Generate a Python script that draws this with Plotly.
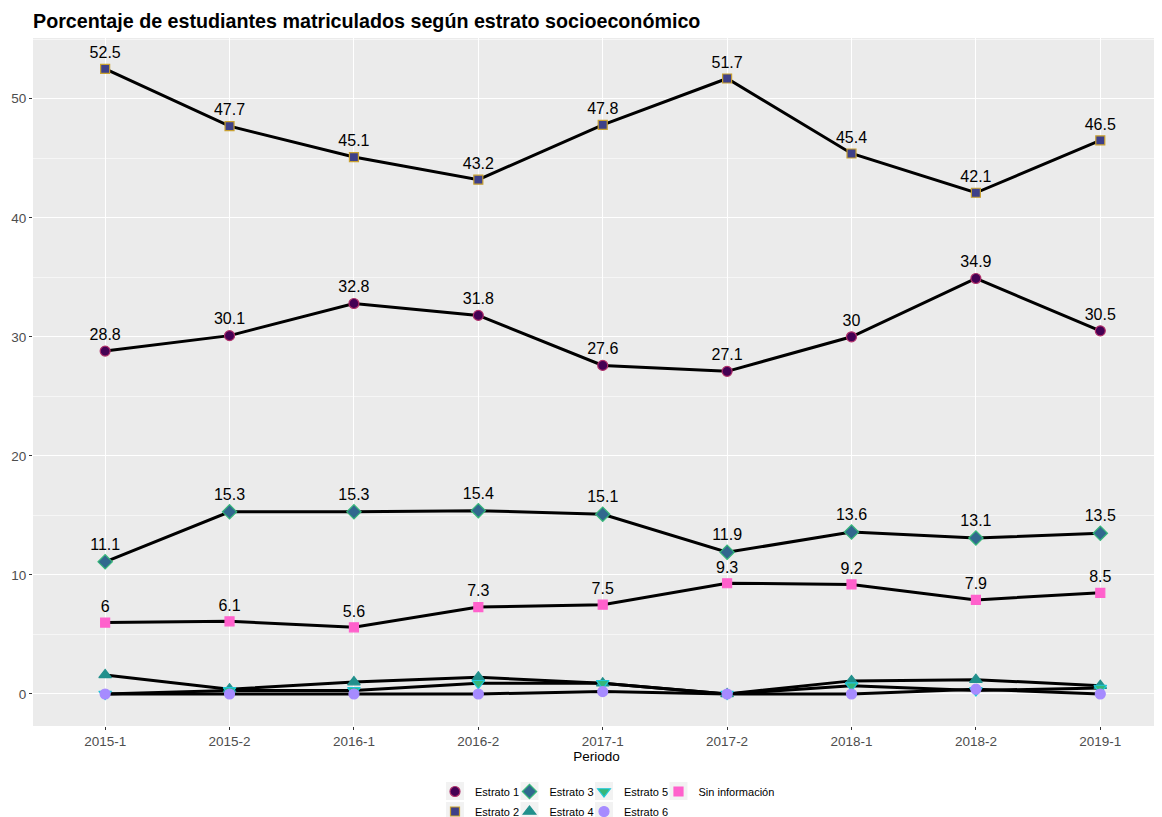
import plotly.graph_objects as go

# datos
periodos = ["2015-1", "2015-2", "2016-1", "2016-2", "2017-1", "2017-2", "2018-1", "2018-2", "2019-1"]
estrato_1 = [28.8, 30.1, 32.8, 31.8, 27.6, 27.1, 30, 34.9, 30.5]
estrato_2 = [52.5, 47.7, 45.1, 43.2, 47.8, 51.7, 45.4, 42.1, 46.5]
estrato_3 = [11.1, 15.3, 15.3, 15.4, 15.1, 11.9, 13.6, 13.1, 13.5]
estrato_4 = [1.6, 0.4, 1.0, 1.4, 0.9, 0.0, 1.1, 1.2, 0.7]
estrato_5 = [0.0, 0.3, 0.3, 0.9, 0.9, 0.0, 0.7, 0.3, 0.5]
estrato_6 = [0.0, 0.0, 0.0, 0.0, 0.2, 0.0, 0.0, 0.4, 0.0]
sin_info = [6, 6.1, 5.6, 7.3, 7.5, 9.3, 9.2, 7.9, 8.5]

# nombre, valores, simbolo, tamaño, relleno, borde, etiquetas, (columna, fila) en la leyenda
series = [
    ("Estrato 1", estrato_1, "circle", 10, "#440154", "#B0306A", True, (0, 0)),
    ("Estrato 2", estrato_2, "square", 9, "#3E4089", "#C8A030", True, (0, 1)),
    ("Estrato 3", estrato_3, "diamond", 11, "#31688E", "#35B779", True, (1, 0)),
    ("Estrato 4", estrato_4, "triangle-up", 11, "#21908C", "#21908C", False, (1, 1)),
    ("Estrato 5", estrato_5, "triangle-down", 11, "#35B779", "#1FC8DA", False, (2, 0)),
    ("Estrato 6", estrato_6, "circle", 10, "#A68BFF", "#A68BFF", False, (2, 1)),
    ("Sin información", sin_info, "square", 9, "#FF61CC", "#FF61CC", True, (3, 0)),
]

font = "Liberation Sans, Arial, sans-serif"
W, H = 1154, 809   # la pagina deja 8px de margen arriba/izquierda
fig = go.Figure()

# lineas primero
for name, vals, sym, sz, fill, edge, lab, pos in series:
    fig.add_trace(go.Scatter(x=periodos, y=vals, mode="lines",
                             line=dict(color="black", width=3),
                             showlegend=False, hoverinfo="skip"))

# leyenda tipo ggplot: una caja por elemento, en columnas
legends = {}
key_boxes = []
for i, (name, vals, sym, sz, fill, edge, lab, (col, row)) in enumerate(series):
    key = "legend" if i == 0 else f"legend{i + 1}"
    icon_x = 447 + 74.5 * col          # centro del icono (px de la figura)
    icon_y = 783 + 20 * row
    legends[key] = dict(orientation="h", xref="container", yref="container",
                        x=(icon_x - 20) / W, y=1 - (icon_y - 14) / H,
                        xanchor="left", yanchor="top", itemwidth=30,
                        font=dict(size=11, color="black"), bgcolor="rgba(0,0,0,0)")
    # fondo gris de la llave (coordenadas paper del panel 1127x688)
    key_boxes.append(dict(type="rect", xref="paper", yref="paper", layer="below",
                          x0=(icon_x - 25 - 9) / 1127, x1=(icon_x - 25 + 9) / 1127,
                          y0=(718 - icon_y - 9) / 688, y1=(718 - icon_y + 9) / 688,
                          fillcolor="#F2F2F2", line=dict(width=0)))
    fig.add_trace(go.Scatter(
        x=periodos, y=vals, name=name, legend=key,
        mode="markers+text" if lab else "markers",
        text=[f"{v:g}" for v in vals] if lab else None,
        textposition="top center",
        textfont=dict(size=16, color="black", family=font),
        marker=dict(symbol=sym, size=sz, color=fill,
                    line=dict(color=edge, width=1.2)),
    ))

fig.update_layout(
    width=W, height=H,
    margin=dict(l=25, r=2, t=30, b=91, autoexpand=False),
    paper_bgcolor="white", plot_bgcolor="#EBEBEB",
    font=dict(family=font, color="#4D4D4D", size=13),
    title=dict(text="<b>Porcentaje de estudiantes matriculados según estrato socioeconómico</b>",
               x=0, xref="paper", xanchor="left", y=0.984, yanchor="middle",
               font=dict(size=19.7, color="black", family=font)),
    shapes=key_boxes,
    **legends,
)

fig.update_xaxes(
    type="category", range=[-0.58, 8.48], automargin=False,
    showgrid=True, gridcolor="white", gridwidth=1.2,
    ticks="outside", ticklen=3, tickcolor="#333333",
    tickfont=dict(size=13.5, color="#4D4D4D"),
    title=dict(text="Periodo", font=dict(size=13.5, color="black"), standoff=0),
    zeroline=False, showline=False,
)
fig.update_yaxes(
    range=[-2.69, 55.1], tickvals=[0, 10, 20, 30, 40, 50], automargin=False,
    showgrid=True, gridcolor="white", gridwidth=1.2,
    minor=dict(tickvals=[5, 15, 25, 35, 45, 55], showgrid=True, gridcolor="#F6F6F6", gridwidth=0.6),
    ticks="outside", ticklen=3, tickcolor="#333333",
    tickfont=dict(size=13.5, color="#4D4D4D"),
    zeroline=False, showline=False,
)

fig.write_html("out.html")
